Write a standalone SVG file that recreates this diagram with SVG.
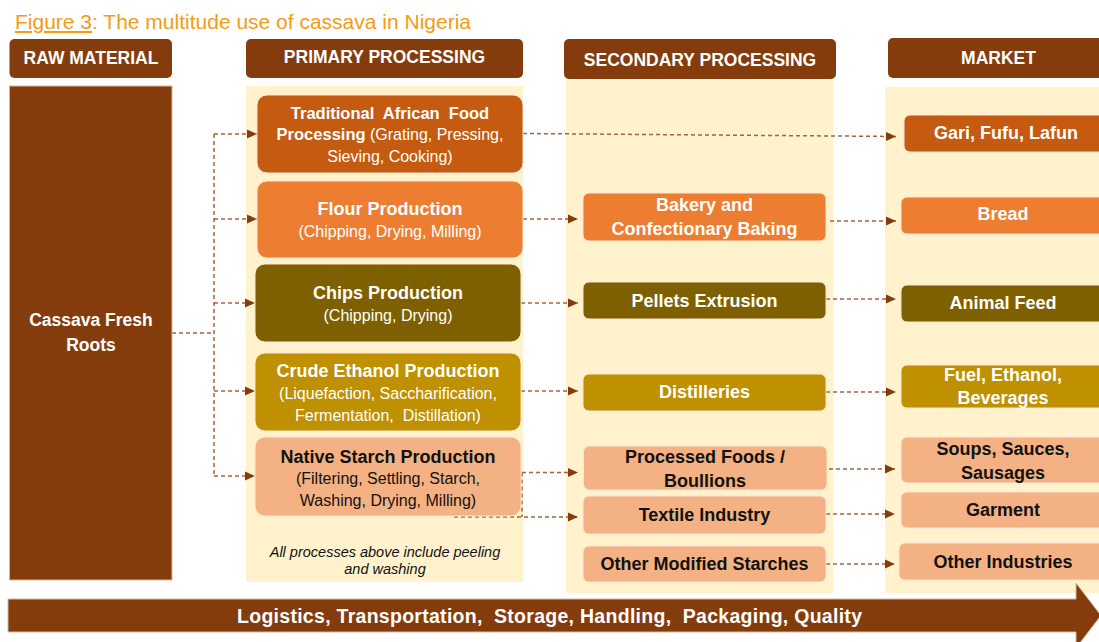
<svg xmlns="http://www.w3.org/2000/svg" width="1099" height="642" viewBox="0 0 1099 642">
<style>
text{font-family:"Liberation Sans",Arial,sans-serif;text-anchor:middle}
.hd{fill:#843C0C}
.ht{fill:#fff;font-weight:bold;font-size:17.5px}
.bg{fill:#FFF2CC}
.nb{stroke:#FBE5D6;stroke-width:1}
.t1{fill:#C55A11}.t2{fill:#ED7D31}.t3{fill:#7F6000}.t4{fill:#BF9000}.t5{fill:#F4B183}
.w{fill:#fff}.k{fill:#111}
.b{font-weight:bold;font-size:18px}
.r{font-size:16px}
.c{fill:none;stroke:#A3653E;stroke-width:1.5;stroke-dasharray:4 3}
.ca{marker-end:url(#ah)}
</style>
<defs>
<marker id="ah" markerUnits="userSpaceOnUse" markerWidth="11" markerHeight="11" refX="10" refY="5.5" orient="auto">
<path d="M0,1 L10,5.5 L0,10 Z" fill="#843C0C"/>
</marker>
</defs>
<rect width="1099" height="642" fill="#fff"/>
<g id="title">
<text x="15" y="29" style="text-anchor:start;font-size:21px;fill:#F59B14"><tspan text-decoration="underline">Figure 3</tspan>: The multitude use of cassava in Nigeria</text>
</g>
<g id="columns">
<rect class="bg" x="246" y="86" width="277" height="496"/>
<rect class="bg" x="566" y="78" width="267" height="515"/>
<rect class="bg" x="885" y="87" width="220" height="506"/>
</g>
<g id="header-raw"><rect class="hd" x="9.5" y="39" width="162.5" height="39" rx="5"/><text class="ht" x="91" y="64">RAW MATERIAL</text></g>
<g id="header-primary"><rect class="hd" x="246" y="39" width="277" height="39" rx="5"/><text class="ht" x="384.5" y="63">PRIMARY PROCESSING</text></g>
<g id="header-secondary"><rect class="hd" x="564" y="39" width="272" height="40" rx="5"/><text class="ht" x="700" y="66">SECONDARY PROCESSING</text></g>
<g id="header-market"><rect class="hd" x="888" y="38" width="225" height="40" rx="5"/><text class="ht" x="998.5" y="64">MARKET</text></g>
<g id="connectors">
<path class="c" d="M172,333 H214 M214,134 V476"/>
<path class="c ca" d="M214,134 H257"/>
<path class="c ca" d="M214,219 H257"/>
<path class="c ca" d="M214,303 H255"/>
<path class="c ca" d="M214,391 H255"/>
<path class="c ca" d="M214,476 H255"/>
<path class="c ca" d="M523,133.5 L896,136.5"/>
<path class="c ca" d="M523,219 H578"/>
<path class="c ca" d="M830,221 H896"/>
<path class="c ca" d="M521,303 H578"/>
<path class="c ca" d="M826,299 H896"/>
<path class="c ca" d="M521,391 H578"/>
<path class="c ca" d="M826,392 H896"/>
<path class="c ca" d="M522,472.5 H578"/>
<path class="c" d="M522,472.5 V517"/>
<path class="c ca" d="M454,517 H578"/>
<path class="c ca" d="M829,469 H895"/>
<path class="c ca" d="M826,514 H895"/>
<path class="c ca" d="M826,564 H895"/>
</g>
<g id="cassava"><rect x="9.5" y="86" width="162.5" height="494" fill="#843C0C" stroke="#D9B8A0" stroke-width="1"/><text class="w" style="font-weight:bold;font-size:17.5px" x="91" y="326">Cassava Fresh</text><text class="w" style="font-weight:bold;font-size:17.5px" x="91" y="351">Roots</text></g>
<g id="traditional"><rect class="t1 nb" x="257" y="95" width="266" height="78" rx="10"/>
<text class="w" style="font-weight:bold;font-size:16.5px" x="390" y="119" xml:space="preserve">Traditional  African  Food</text>
<text class="w" style="font-size:16px" x="390" y="140"><tspan font-weight="bold" font-size="16.5px">Processing</tspan> (Grating, Pressing,</text>
<text class="w r" x="390" y="162">Sieving, Cooking)</text></g>
<g id="flour"><rect class="t2 nb" x="257" y="181" width="266" height="77" rx="10"/>
<text class="w b" x="390" y="215">Flour Production</text><text class="w r" x="390" y="236.5">(Chipping, Drying, Milling)</text></g>
<g id="chips"><rect class="t3 nb" x="255" y="264" width="266" height="78" rx="10"/>
<text class="w b" x="388" y="299">Chips Production</text><text class="w r" x="388" y="320.5">(Chipping, Drying)</text></g>
<g id="crude"><rect class="t4 nb" x="255" y="353" width="266" height="78" rx="10"/>
<text class="w b" x="388" y="377">Crude Ethanol Production</text><text class="w r" x="388" y="398.5">(Liquefaction, Saccharification,</text><text class="w r" x="388" y="420.5" xml:space="preserve">Fermentation,  Distillation)</text></g>
<g id="native"><rect class="t5 nb" x="255" y="437" width="266" height="79" rx="10"/>
<text class="k b" x="388" y="463">Native Starch Production</text><text class="k r" x="388" y="483.5">(Filtering, Settling, Starch,</text><text class="k r" x="388" y="505.5">Washing, Drying, Milling)</text></g>
<g id="note"><text style="font-style:italic;font-size:14.5px;fill:#111" x="385" y="557">All processes above include peeling</text><text style="font-style:italic;font-size:14.5px;fill:#111" x="385" y="574">and washing</text></g>
<g id="bakery"><rect class="t2 nb" x="583" y="193" width="243" height="48" rx="6"/><text class="w b" x="704.5" y="211">Bakery and</text><text class="w b" x="704.5" y="235">Confectionary Baking</text></g>
<g id="pellets"><rect class="t3 nb" x="583" y="282" width="243" height="37" rx="6"/><text class="w b" x="704.5" y="307">Pellets Extrusion</text></g>
<g id="distilleries"><rect class="t4 nb" x="583" y="374" width="243" height="37" rx="6"/><text class="w b" x="704.5" y="398">Distilleries</text></g>
<g id="processed"><rect class="t5 nb" x="583.5" y="446" width="243.5" height="44" rx="6"/><text class="k b" x="705" y="463">Processed Foods /</text><text class="k b" x="705" y="487">Boullions</text></g>
<g id="textile"><rect class="t5 nb" x="583" y="496" width="243" height="38" rx="6"/><text class="k b" x="704.5" y="521">Textile Industry</text></g>
<g id="othermod"><rect class="t5 nb" x="583" y="546" width="243" height="36" rx="6"/><text class="k b" x="704.5" y="570">Other Modified Starches</text></g>
<g id="gari"><rect class="t1 nb" x="904" y="115" width="210" height="37" rx="6"/><text class="w b" x="1006" y="139">Gari, Fufu, Lafun</text></g>
<g id="bread"><rect class="t2 nb" x="901" y="197" width="210" height="37" rx="6"/><text class="w b" x="1003" y="220">Bread</text></g>
<g id="animal"><rect class="t3 nb" x="901" y="285" width="210" height="37" rx="6"/><text class="w b" x="1003" y="309">Animal Feed</text></g>
<g id="fuel"><rect class="t4 nb" x="901" y="365" width="210" height="43" rx="6"/><text class="w b" x="1003" y="381">Fuel, Ethanol,</text><text class="w b" x="1003" y="404">Beverages</text></g>
<g id="soups"><rect class="t5 nb" x="901" y="437" width="210" height="46" rx="6"/><text class="k b" x="1003" y="455">Soups, Sauces,</text><text class="k b" x="1003" y="479">Sausages</text></g>
<g id="garment"><rect class="t5 nb" x="901" y="492" width="210" height="36" rx="6"/><text class="k b" x="1003" y="516">Garment</text></g>
<g id="otherind"><rect class="t5 nb" x="899" y="543" width="212" height="37" rx="6"/><text class="k b" x="1003" y="568">Other Industries</text></g>
<g id="logistics"><path d="M8,599 H1076 V583 L1101,615.5 L1076,648 V632 H8 Z" fill="#843C0C" stroke="#D9B8A0" stroke-width="1"/>
<text class="w" style="font-weight:bold;font-size:19.5px" x="549.5" y="622.5" textLength="625" lengthAdjust="spacing" xml:space="preserve">Logistics, Transportation,  Storage, Handling,  Packaging, Quality</text></g>
</svg>
